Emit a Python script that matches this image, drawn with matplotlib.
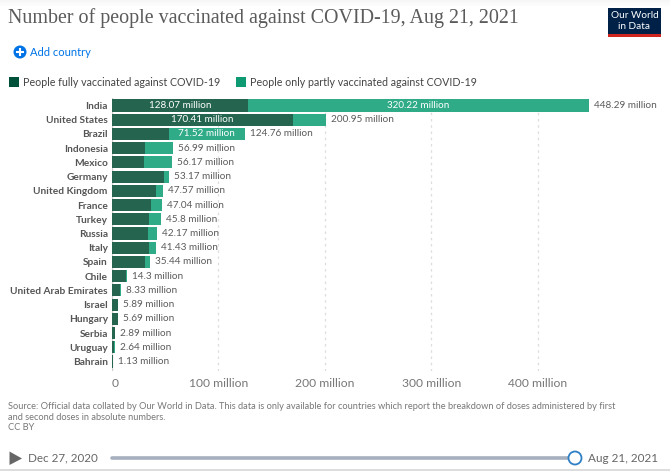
import matplotlib
matplotlib.use('Agg')
import matplotlib.pyplot as plt
from matplotlib.patches import Circle, Rectangle, Polygon

plt.rcParams['font.family'] = ['Lato', 'DejaVu Sans']

countries = ['India', 'United States', 'Brazil', 'Indonesia', 'Mexico', 'Germany',
             'United Kingdom', 'France', 'Turkey', 'Russia', 'Italy', 'Spain', 'Chile',
             'United Arab Emirates', 'Israel', 'Hungary', 'Serbia', 'Uruguay', 'Bahrain']
fully = [128.07, 170.41, 53.24, 31.0, 30.0, 48.5, 41.4, 36.7, 34.8, 33.8, 35.0, 31.3,
         13.5, 7.5, 5.5, 5.4, 2.6, 2.3, 1.0]
totals = [448.29, 200.95, 124.76, 56.99, 56.17, 53.17, 47.57, 47.04, 45.8, 42.17, 41.43,
          35.44, 14.3, 8.33, 5.89, 5.69, 2.89, 2.64, 1.13]
xticks = [0, 100, 200, 300, 400]
xtick_labels = ['0', '100 million', '200 million', '300 million', '400 million']

W, H = 670, 471
dark = '#25654f'
light = '#30ab87'
grey = '#5b5b5b'

fig = plt.figure(figsize=(W / 100, H / 100), dpi=100)

# page furniture in pixel coordinates
bg = fig.add_axes([0, 0, 1, 1])
bg.set_xlim(0, W)
bg.set_ylim(H, 0)
bg.axis('off')

# faint shadow along the top edge
for i in range(6):
    bg.add_patch(Rectangle((0, i), W, 1, color='#000000', alpha=0.035 - i * 0.005, lw=0))

bg.text(8.5, 18.5, 'Number of people vaccinated against COVID-19, Aug 21, 2021',
        family='Liberation Serif', fontsize=14.4, color='#5b5b5b', va='center', ha='left')

bg.add_patch(Rectangle((608, 8), 53, 29, color='#002147', lw=0))
bg.add_patch(Rectangle((608, 34), 53, 3, color='#ce261e', lw=0))
bg.text(634.5, 15.5, 'Our World', color='white', fontsize=7.2, ha='center', va='center')
bg.text(634.5, 26.5, 'in Data', color='white', fontsize=7.2, ha='center', va='center')

bg.add_patch(Circle((20, 52), 6.5, color='#0073e6', lw=0))
bg.plot([16, 24], [52, 52], color='white', lw=1.5, solid_capstyle='butt')
bg.plot([20, 20], [48, 56], color='white', lw=1.5, solid_capstyle='butt')
bg.text(30, 52, 'Add country', color='#0073e6', fontsize=8.05, va='center', ha='left')

bg.add_patch(Rectangle((8.5, 77), 10, 10, color='#00513a', lw=0))
bg.text(23, 82, 'People fully vaccinated against COVID-19', color='#444444', fontsize=7.7,
        va='center', ha='left')
bg.add_patch(Rectangle((235.5, 77), 10, 10, color='#0e9a72', lw=0))
bg.text(250, 82, 'People only partly vaccinated against COVID-19', color='#444444', fontsize=7.7,
        va='center', ha='left')

bg.text(8, 406.5, 'Source: Official data collated by Our World in Data. This data is only available '
        'for countries which report the breakdown of doses administered by first',
        color='#777777', fontsize=6.67, va='center', ha='left')
bg.text(8, 417, 'and second doses in absolute numbers.', color='#777777', fontsize=6.67,
        va='center', ha='left')
bg.text(8, 427, 'CC BY', color='#777777', fontsize=6.67, va='center', ha='left')

bg.add_patch(Polygon([(9.5, 451.5), (9.5, 465), (22, 458.5)], color='#666666', lw=0))
bg.text(28, 458, 'Dec 27, 2020', color='#666666', fontsize=8.35, va='center', ha='left')
bg.plot([112, 568], [458, 458], color='#a5afbd', lw=2.6, solid_capstyle='round')
bg.add_patch(Circle((575, 458), 6.5, facecolor='white', edgecolor='#2f7fc4', lw=1.3, zorder=3))
bg.text(588, 458, 'Aug 21, 2021', color='#666666', fontsize=8.5, va='center', ha='left')
bg.add_patch(Rectangle((0, 469), W, 2, color='#dddddd', lw=0))

# chart area: x = 0 sits at px 112, 100 million is 106.4 px
left, right, top, bottom = 112, 650, 98, 371
ax = fig.add_axes([left / W, 1 - bottom / H, (right - left) / W, (bottom - top) / H])
ax.patch.set_alpha(0)
ax.set_xlim(0, (right - left) / 1.064)
ax.set_ylim(18.67, -0.53)

partly = [t - f for t, f in zip(totals, fully)]
ypos = list(range(len(countries)))
ax.barh(ypos, fully, height=0.85, color=dark, lw=0, zorder=2)
ax.barh(ypos, partly, left=fully, height=0.85, color=light, lw=0, zorder=2)

# total labels sit beside the bar, India's and Brazil's inner labels on top
for y, t in zip(ypos, totals):
    ax.annotate('{:g} million'.format(t), (t, y), xytext=(3.7, 0), textcoords='offset points',
                color=grey, fontsize=7.2, va='center', ha='left', zorder=4)
for y in [0, 1]:
    ax.text(fully[y] / 2, y, '{:g} million'.format(fully[y]), color='white', fontsize=7.1,
            va='center', ha='center', zorder=4)
for y in [0, 2]:
    ax.text(fully[y] + partly[y] / 2, y, '{:.2f} million'.format(partly[y]), color='white',
            fontsize=7.1, va='center', ha='center', zorder=4)

ax.set_yticks(ypos)
ax.set_yticklabels(countries, fontsize=7.3, color='#555555', fontweight='bold')
ax.set_xticks(xticks)
ax.set_xticklabels(xtick_labels, fontsize=8.7, color='#777777')
ax.get_xticklabels()[0].set_ha('left')
ax.tick_params(axis='both', length=0)
ax.tick_params(axis='y', pad=3)
ax.tick_params(axis='x', pad=5)
ax.grid(axis='x', color='#dddddd', lw=0.9, ls=(0, (2, 3)), zorder=0)
ax.set_axisbelow(True)
for s in ['top', 'right', 'left', 'bottom']:
    ax.spines[s].set_visible(False)
ax.axvline(0, color='#cccccc', lw=0.9, zorder=1)

fig.savefig('out.png', dpi=100)
